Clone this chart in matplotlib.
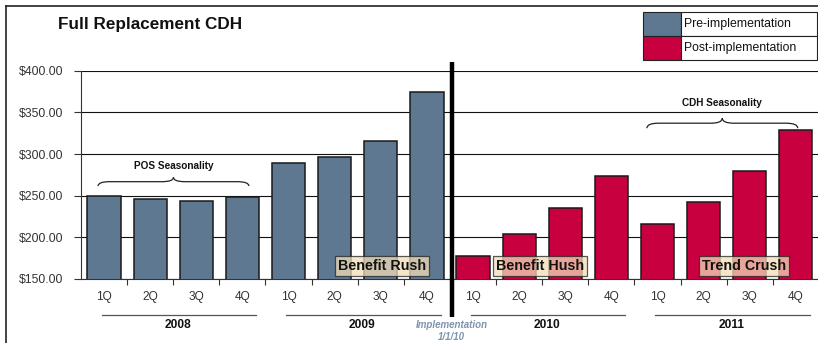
import matplotlib
matplotlib.use("Agg")
import matplotlib.pyplot as plt
from matplotlib.patches import Rectangle, PathPatch
from matplotlib.path import Path
from matplotlib.lines import Line2D

plt.rcParams['font.family'] = ['Liberation Sans', 'DejaVu Sans']

quarters = ["1Q", "2Q", "3Q", "4Q"] * 4
years = ["2008", "2009", "2010", "2011"]
values = [250, 246, 244, 248, 289, 297, 316, 374,
          178, 204, 235, 274, 216, 242, 280, 329]
phase = ["Pre"] * 8 + ["Post"] * 8
series_names = ["Pre-implementation", "Post-implementation"]
yticks = [150, 200, 250, 300, 350, 400]
callouts = [("Benefit Rush", 6.02), ("Benefit Hush", 9.46), ("Trend Crush", 13.88)]

PRE = "#5E7892"
POST = "#C80040"
colors = [PRE if p == "Pre" else POST for p in phase]

W, H = 818, 343
fig = plt.figure(figsize=(W / 100, H / 100), dpi=100)

def fx(px):
    return px / W

def fy(py):
    return 1 - py / H

ax = fig.add_axes([fx(81), fy(279), fx(818) - fx(81), fy(70.7) - fy(279)])
x = list(range(len(values)))
ax.bar(x, values, width=0.72, color=colors, edgecolor="#1a1a1a", linewidth=1.1, zorder=3)
ax.set_ylim(150, 400)
ax.set_xlim(-0.5, 15.48)
ax.set_yticks(yticks)
ax.set_yticklabels([f"${v:.2f}" for v in yticks], fontsize=8.8, color="#333333")
ax.yaxis.grid(True, color="#111111", linewidth=0.8, zorder=0)
ax.set_xticks([i + 0.5 for i in range(15)])
ax.set_xticklabels([])
ax.tick_params(axis="x", length=4, width=0.8, color="#333333", direction="out")
ax.tick_params(axis="y", length=5, width=0.8, color="#333333", pad=8)
for s in ["top", "right"]:
    ax.spines[s].set_visible(False)
ax.spines["left"].set_color("#333333")
ax.spines["bottom"].set_color("#333333")

# quarter labels
for i, q in enumerate(quarters):
    ax.text(i, 150 - (297 - 279) / 0.833, q, ha="center", va="center",
            fontsize=8.6, color="#333333", clip_on=False)

# year underline and labels
yl = 150 - (315 - 279) / 0.833
ylab = 150 - (325 - 279) / 0.833
for g, yr in enumerate(years):
    s = g * 4 - 0.5
    ax.plot([s + 0.45, s + 3.8], [yl, yl], color="#555555", lw=0.9, clip_on=False)
    ax.text(s + 2.1, ylab, yr, ha="center", va="center", fontsize=8.6,
            fontweight="bold", color="#111111", clip_on=False)

# implementation line
ax.plot([7.54, 7.54], [104.4, 410.5], color="black", lw=3.2, clip_on=False,
        zorder=5, solid_capstyle="butt")
ax.text(7.54, 150 - (325 - 279) / 0.833, "Implementation", ha="center", va="center",
        fontsize=7, fontstyle="italic", fontweight="bold", color="#7F93AE", clip_on=False)
ax.text(7.54, 150 - (337 - 279) / 0.833, "1/1/10", ha="center", va="center",
        fontsize=7, fontstyle="italic", fontweight="bold", color="#7F93AE", clip_on=False)

# callout boxes
for label, cx in callouts:
    ax.text(cx, 166, label, ha="center", va="center", fontsize=10.3, fontweight="bold",
            color="#111111", zorder=6,
            bbox=dict(boxstyle="square,pad=0.2", facecolor="#F2DDB8", alpha=0.75,
                      edgecolor="#222222", linewidth=0.9))

# braces
def brace(x0, x1, ybase, ytip, label, ylabel):
    xm = (x0 + x1) / 2
    ymid = (ybase + ytip) / 2
    p = Path([(x0, ybase), (x0, ymid), (x0 + 0.25, ymid),
              (xm - 0.25, ymid),
              (xm, ymid), (xm, ytip),
              (xm, ymid), (xm + 0.25, ymid),
              (x1 - 0.25, ymid),
              (x1, ymid), (x1, ybase)],
             [Path.MOVETO, Path.CURVE3, Path.CURVE3,
              Path.LINETO,
              Path.CURVE3, Path.CURVE3,
              Path.CURVE3, Path.CURVE3,
              Path.LINETO,
              Path.CURVE3, Path.CURVE3])
    ax.add_patch(PathPatch(p, facecolor="none", edgecolor="#222222", lw=0.9,
                           zorder=4, clip_on=False))
    ax.text(xm, ylabel, label, ha="center", va="center", fontsize=7.2,
            fontweight="bold", color="#111111")

brace(-0.13, 3.14, 261.6, 272, "POS Seasonality", 286)
brace(11.77, 15.04, 331, 343, "CDH Seasonality", 361)

# title
fig.text(fx(58), fy(24), "Full Replacement CDH", ha="left", va="center",
         fontsize=12.3, fontweight="bold", color="#111111")

# figure border (top and left)
fig.add_artist(Line2D([fx(6), 1], [fy(6), fy(6)], color="#222222", lw=1.2))
fig.add_artist(Line2D([fx(6), fx(6)], [fy(6), 0], color="#222222", lw=1.2))

# legend
lx0, lx1, lx2 = 643, 681, 817
ly = [12, 36, 60]
for k, (name, col) in enumerate(zip(series_names, [PRE, POST])):
    y_top, y_bot = ly[k], ly[k + 1]
    fig.add_artist(Rectangle((fx(lx0), fy(y_bot)), fx(lx1) - fx(lx0), fy(y_top) - fy(y_bot),
                             facecolor=col, edgecolor="#222222", lw=0.8))
    fig.add_artist(Rectangle((fx(lx1), fy(y_bot)), fx(lx2) - fx(lx1), fy(y_top) - fy(y_bot),
                             facecolor="white", edgecolor="#222222", lw=0.8))
    fig.text(fx(lx1 + 3), fy((y_top + y_bot) / 2), name, ha="left", va="center",
             fontsize=8.8, color="#111111")

fig.savefig("out.png", dpi=100)
